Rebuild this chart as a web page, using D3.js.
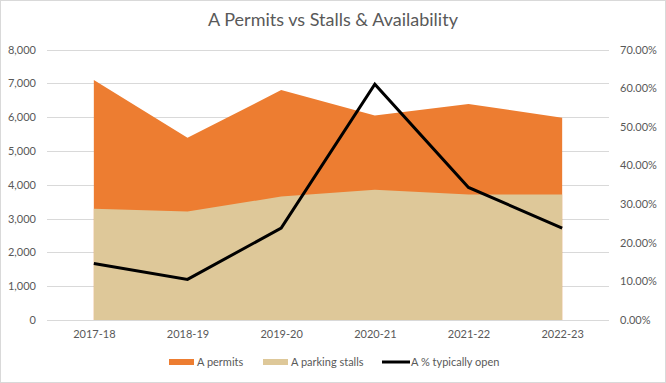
<!DOCTYPE html>
<html><head><meta charset="utf-8">
<script src="https://cdn.jsdelivr.net/npm/d3@7"></script>
<style>body{margin:0;background:#fff}svg{display:block}</style>
</head><body>
<script>
const categories = ["2017-18","2018-19","2019-20","2020-21","2021-22","2022-23"];
const permits = [7100, 5390, 6800, 6045, 6390, 5985];
const stalls = [3290, 3210, 3650, 3850, 3710, 3710];
const pctOpen = [0.146, 0.105, 0.238, 0.610, 0.343, 0.238];
const leftTicks = [0,1000,2000,3000,4000,5000,6000,7000,8000];
const rightTicks = [0,0.1,0.2,0.3,0.4,0.5,0.6,0.7];

const W=666,H=383, font="Lato, 'Open Sans', sans-serif", txt="#595959";
const svg=d3.select("body").append("svg").attr("width",W).attr("height",H);
svg.append("rect").attr("x",0.5).attr("y",0.5).attr("width",W-1).attr("height",H-1).attr("fill","#fff").attr("stroke","#d9d9d9");

const L=47,R=609,T=49.5,B=320;
const x=d3.scalePoint().domain(categories).range([L,R]).padding(0.5);
const y=d3.scaleLinear().domain([0,8000]).range([B,T]);
const y2=d3.scaleLinear().domain([0,0.7]).range([B,T]);

// gridlines
svg.append("g").selectAll("line").data(leftTicks).join("line")
 .attr("x1",L).attr("x2",R).attr("y1",d=>Math.round(y(d))+0.5).attr("y2",d=>Math.round(y(d))+0.5)
 .attr("stroke","#d9d9d9").attr("stroke-width",1);

const area=(vals)=>d3.area().x((d,i)=>x(categories[i])).y0(y(0)).y1(d=>y(d))(vals);
svg.append("path").attr("d",area(permits)).attr("fill","#ED7D31");
svg.append("path").attr("d",area(stalls)).attr("fill","#DEC899");

svg.append("path").attr("d",d3.line().x((d,i)=>x(categories[i])).y(d=>y2(d))(pctOpen))
 .attr("fill","none").attr("stroke","#000").attr("stroke-width",3).attr("stroke-linejoin","miter");

// left axis
const la=svg.append("g").attr("transform",`translate(${L-11},0)`)
 .call(d3.axisLeft(y).tickValues(leftTicks).tickFormat(d3.format(",")).tickSize(0).tickPadding(0));
la.select(".domain").remove();
la.selectAll("text").attr("font-family",font).attr("font-size",11).attr("fill",txt);

const ra=svg.append("g").attr("transform",`translate(${R+11},0)`)
 .call(d3.axisRight(y2).tickValues(rightTicks).tickFormat(d3.format(".2%")).tickSize(0).tickPadding(0));
ra.select(".domain").remove();
ra.selectAll("text").attr("font-family",font).attr("font-size",11).attr("fill",txt);

const xa=svg.append("g").attr("transform",`translate(0,${B+10})`)
 .call(d3.axisBottom(x).tickSize(0).tickPadding(0));
xa.select(".domain").remove();
xa.selectAll("text").attr("font-family",font).attr("font-size",11).attr("fill",txt);

svg.append("text").attr("x",W/2).attr("y",26).attr("text-anchor","middle")
 .attr("font-family",font).attr("font-size",18).attr("fill",txt).text("A Permits vs Stalls & Availability");

// legend
const lg=svg.append("g").attr("font-family",font).attr("font-size",11).attr("fill",txt);
const items=[{label:"A permits",type:"rect",c:"#ED7D31",x:169},{label:"A parking stalls",type:"rect",c:"#DEC899",x:263},{label:"A % typically open",type:"line",c:"#000",x:382}];
items.forEach(it=>{
  if(it.type==="rect") lg.append("rect").attr("x",it.x).attr("y",359).attr("width",25).attr("height",6).attr("fill",it.c);
  else lg.append("line").attr("x1",it.x).attr("x2",it.x+28).attr("y1",362).attr("y2",362).attr("stroke",it.c).attr("stroke-width",3);
  lg.append("text").attr("x",it.x+(it.type==="rect"?28:29)).attr("y",366).text(it.label);
});
</script>
</body></html>
